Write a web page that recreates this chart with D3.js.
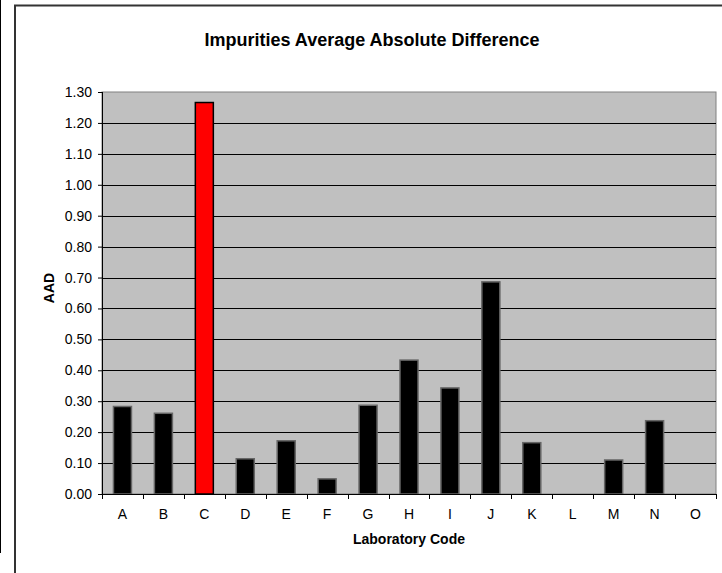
<!DOCTYPE html>
<html>
<head>
<meta charset="utf-8">
<script src="https://cdn.jsdelivr.net/npm/d3@7"></script>
<style>
  body { margin: 0; background: #fff; }
  svg { display: block; font-family: "Liberation Sans", Arial, sans-serif; }
  .axis text { font-size: 14px; fill: #000; }
  .axis path, .axis line { stroke: #000; }
</style>
</head>
<body>
<div id="chart"></div>
<script>
// lab codes and their AAD values
var labs = ["A", "B", "C", "D", "E", "F", "G", "H", "I", "J", "K", "L", "M", "N", "O"];
var aad = [0.283, 0.261, 1.266, 0.114, 0.172, 0.049, 0.287, 0.433, 0.343, 0.686, 0.166, 0, 0.110, 0.237, 0];
var highlight = ["C"];
var yTicks = [0, 0.1, 0.2, 0.3, 0.4, 0.5, 0.6, 0.7, 0.8, 0.9, 1.0, 1.1, 1.2, 1.3];

var W = 722, H = 573;
var margin = {top: 92, right: 6, bottom: 79, left: 102},
    width = W - margin.left - margin.right,
    height = H - margin.top - margin.bottom;

var data = labs.map(function(d, i) { return {lab: d, value: aad[i]}; });

var svg = d3.select("#chart").append("svg")
    .attr("width", W)
    .attr("height", H);

// outer frame
svg.append("line").attr("x1", 0.5).attr("x2", 0.5).attr("y1", 0).attr("y2", 553)
    .attr("stroke", "#000").attr("stroke-width", 1);
svg.append("path")
    .attr("d", "M15,573 V5.5 H722")
    .attr("fill", "none").attr("stroke", "#333").attr("stroke-width", 2);

var g = svg.append("g")
    .attr("transform", "translate(" + margin.left + "," + margin.top + ")");

var x = d3.scaleBand()
    .domain(labs)
    .range([0, width])
    .paddingInner(0.56)
    .paddingOuter(0.28);

var y = d3.scaleLinear()
    .domain([0, 1.3])
    .range([height, 0]);

// plot background
g.append("rect")
    .attr("width", width)
    .attr("height", height)
    .attr("fill", "#c0c0c0")
    .attr("stroke", "#808080")
    .attr("stroke-width", 1);

// gridlines
g.selectAll(".grid")
    .data(yTicks.slice(1, -1))
    .enter().append("line")
    .attr("class", "grid")
    .attr("x1", 0).attr("x2", width)
    .attr("y1", function(d) { return Math.round(y(d)) + 0.5; })
    .attr("y2", function(d) { return Math.round(y(d)) + 0.5; })
    .attr("stroke", "#000");

// bars
g.selectAll(".bar")
    .data(data)
    .enter().append("rect")
    .attr("class", "bar")
    .attr("x", function(d) { return x(d.lab); })
    .attr("width", x.bandwidth())
    .attr("y", function(d) { return y(d.value); })
    .attr("height", function(d) { return height - y(d.value); })
    .attr("fill", function(d) { return highlight.indexOf(d.lab) >= 0 ? "#ff0000" : "#000"; })
    .attr("stroke", function(d) { return highlight.indexOf(d.lab) >= 0 ? "#000" : "#666"; })
    .attr("stroke-width", function(d) { return d.value > 0 ? 1.5 : 0; });

// y axis
var yAxis = g.append("g")
    .attr("class", "axis")
    .call(d3.axisLeft(y).tickValues(yTicks).tickFormat(d3.format(".2f")).tickSize(4).tickPadding(6));
yAxis.select(".domain").remove();
yAxis.append("line").attr("x1", 0.5).attr("x2", 0.5).attr("y1", 0).attr("y2", height).attr("stroke", "#000");

// x axis with ticks at category boundaries
var xg = g.append("g")
    .attr("class", "axis")
    .attr("transform", "translate(0," + height + ")");
xg.append("line").attr("x1", 0).attr("x2", width).attr("y1", 0.5).attr("y2", 0.5).attr("stroke", "#000");
xg.selectAll(".xtick")
    .data(d3.range(labs.length + 1))
    .enter().append("line")
    .attr("x1", function(i) { return Math.round(i * width / labs.length) + 0.5; })
    .attr("x2", function(i) { return Math.round(i * width / labs.length) + 0.5; })
    .attr("y1", 0).attr("y2", 5)
    .attr("stroke", "#000");
xg.selectAll(".xlab")
    .data(labs)
    .enter().append("text")
    .attr("x", function(d) { return x(d) + x.bandwidth() / 2; })
    .attr("y", 25)
    .attr("text-anchor", "middle")
    .text(function(d) { return d; });

// title and axis titles
svg.append("text")
    .attr("x", 372)
    .attr("y", 46)
    .attr("text-anchor", "middle")
    .attr("font-size", "18px")
    .attr("font-weight", "bold")
    .text("Impurities Average Absolute Difference");

svg.append("text")
    .attr("x", margin.left + width / 2)
    .attr("y", 544)
    .attr("text-anchor", "middle")
    .attr("font-size", "14px")
    .attr("font-weight", "bold")
    .text("Laboratory Code");

svg.append("text")
    .attr("transform", "translate(54,288) rotate(-90)")
    .attr("text-anchor", "middle")
    .attr("font-size", "14px")
    .attr("font-weight", "bold")
    .text("AAD");
</script>
</body>
</html>
